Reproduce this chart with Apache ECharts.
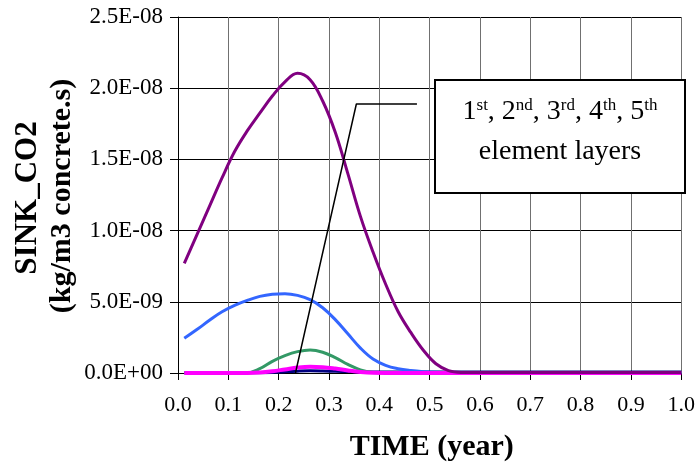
<!DOCTYPE html>
<html><head><meta charset="utf-8">
<script src="https://cdn.jsdelivr.net/npm/echarts@6/dist/echarts.min.js"></script>
<style>html,body{margin:0;padding:0;background:#fff}#c{width:698px;height:467px}</style>
</head><body><div id="c"></div>
<script>
// TIME (year)
const time = [0.0125, 0.0375, 0.0625, 0.0875, 0.1125, 0.1375, 0.1625, 0.1875, 0.2125, 0.2375, 0.2625, 0.2875, 0.3125, 0.3375, 0.3625, 0.3875, 0.4125, 0.4375, 0.4625, 0.4875, 0.5125, 0.5375, 0.5625, 0.5875, 0.7, 0.8, 0.9, 1.0];
// SINK_CO2 (kg/m3 concrete.s) per element layer
const layer1 = [0.77e-8, 0.97e-8, 1.17e-8, 1.37e-8, 1.555e-8, 1.70e-8, 1.825e-8, 1.945e-8, 2.045e-8, 2.105e-8, 2.06e-8, 1.91e-8, 1.69e-8, 1.40e-8, 1.10e-8, 0.85e-8, 0.625e-8, 0.43e-8, 0.285e-8, 0.16e-8, 0.065e-8, 0.017e-8, 0.004e-8, 0.003e-8, 0.003e-8, 0.003e-8, 0.003e-8, 0.003e-8];
const layer2 = [0.244e-8, 0.305e-8, 0.37e-8, 0.43e-8, 0.475e-8, 0.51e-8, 0.538e-8, 0.553e-8, 0.557e-8, 0.545e-8, 0.515e-8, 0.458e-8, 0.375e-8, 0.275e-8, 0.175e-8, 0.098e-8, 0.054e-8, 0.030e-8, 0.017e-8, 0.009e-8, 0.005e-8, 0.004e-8, 0.003e-8, 0.003e-8, 0.003e-8, 0.003e-8, 0.003e-8, 0.003e-8];
const layer3 = [0, 0, 0, 0, 0, 0.001e-8, 0.03e-8, 0.082e-8, 0.122e-8, 0.150e-8, 0.1615e-8, 0.146e-8, 0.108e-8, 0.060e-8, 0.022e-8, 0.004e-8, 0, 0, 0, 0, 0, 0, 0, 0, 0, 0, 0, 0];
const layer4 = [0, 0, 0, 0, 0, 0, 0.003e-8, 0.012e-8, 0.025e-8, 0.038e-8, 0.044e-8, 0.041e-8, 0.031e-8, 0.018e-8, 0.007e-8, 0.001e-8, 0, 0, 0, 0, 0, 0, 0, 0, 0, 0, 0, 0];
const layer5 = [0, 0, 0, 0, 0, 0, 0.001e-8, 0.004e-8, 0.009e-8, 0.013e-8, 0.015e-8, 0.014e-8, 0.012e-8, 0.010e-8, 0.008e-8, 0.007e-8, 0.007e-8, 0.007e-8, 0.007e-8, 0.007e-8, 0.007e-8, 0.007e-8, 0.007e-8, 0.007e-8, 0.007e-8, 0.007e-8, 0.007e-8, 0.007e-8];
// annotation leader line (data coordinates)
const leaderX = [0.2334, 0.3544, 0.4748];
const leaderY = [0, 1.889e-8, 1.889e-8];
// tick labels
const xTickLabels = ['0.0','0.1','0.2','0.3','0.4','0.5','0.6','0.7','0.8','0.9','1.0'];
const yTickLabels = ['0.0E+00','5.0E-09','1.0E-08','1.5E-08','2.0E-08','2.5E-08'];

const FONT = '"Liberation Serif", "Times New Roman", Times, serif';
function pairs(xs, ys) { return xs.map((x, i) => [x, ys[i]]); }
function lineSeries(name, ys, color, width) {
  return { name, type: 'line', data: pairs(time, ys), smooth: 0.4, showSymbol: false, symbol: 'none',
    lineStyle: { color, width }, itemStyle: { color }, z: 3 };
}
const chart = echarts.init(document.getElementById('c'), null, { renderer: 'canvas' });
chart.setOption({
  animation: false,
  backgroundColor: '#fff',
  grid: { left: 178, top: 17, right: 13, bottom: 94, containLabel: false },
  xAxis: {
    type: 'value', min: 0, max: 1, interval: 0.1,
    axisLine: { show: true, onZero: false, lineStyle: { color: '#000', width: 1 } },
    axisTick: { show: true, inside: false, length: 7, lineStyle: { color: '#000' } },
    axisLabel: { formatter: v => xTickLabels[Math.round(v / 0.1)], fontFamily: FONT, fontSize: 22, color: '#000', margin: 21 },
    splitLine: { show: true, lineStyle: { color: '#707070', width: 1 } }
  },
  yAxis: {
    type: 'value', min: 0, max: 2.5e-8, interval: 5e-9,
    axisLine: { show: true, onZero: false, lineStyle: { color: '#000', width: 1 } },
    axisTick: { show: true, inside: false, length: 8, lineStyle: { color: '#000' } },
    axisLabel: { formatter: v => yTickLabels[Math.round(v / 5e-9)], fontFamily: FONT, fontSize: 23, color: '#000', margin: 15 },
    splitLine: { show: true, lineStyle: { color: '#000', width: 1 } }
  },
  series: [
    lineSeries('5th', layer5, '#000080', 3),
    lineSeries('3rd', layer3, '#339966', 3),
    lineSeries('2nd', layer2, '#3366FF', 3),
    lineSeries('4th', layer4, '#FF00FF', 4),
    lineSeries('1st', layer1, '#800080', 3),
    { name: 'leader', type: 'line', data: pairs(leaderX, leaderY), smooth: false, symbol: 'none',
      lineStyle: { color: '#000', width: 1.5 }, z: 4 }
  ],
  graphic: [
    { type: 'rect', z: 100, shape: { x: 435, y: 80, width: 250, height: 113 },
      style: { fill: '#fff', stroke: '#000', lineWidth: 2 } },
    { type: 'text', z: 101, x: 560, y: 112,
      style: { text: '{n|1}{s|st}{n|, 2}{s|nd}{n|, 3}{s|rd}{n|, 4}{s|th}{n|, 5}{s|th}',
        align: 'center', verticalAlign: 'middle', fill: '#000',
        rich: { n: { fontFamily: FONT, fontSize: 28, lineHeight: 30, fill: '#000' },
                s: { fontFamily: FONT, fontSize: 17, lineHeight: 12, verticalAlign: 'top', fill: '#000' } } } },
    { type: 'text', z: 101, x: 560, y: 152,
      style: { text: 'element layers', font: '28px ' + FONT, align: 'center', verticalAlign: 'middle', fill: '#000' } },
    { type: 'text', x: 431.75, y: 447,
      style: { text: 'TIME (year)', font: 'bold 30px ' + FONT, align: 'center', verticalAlign: 'middle', fill: '#000' } },
    { type: 'text', x: 28, y: 198, rotation: Math.PI / 2,
      style: { text: 'SINK_CO2', font: 'bold 31px ' + FONT, align: 'center', verticalAlign: 'middle', fill: '#000' } },
    { type: 'text', x: 62, y: 196, rotation: Math.PI / 2,
      style: { text: '(kg/m3 concrete.s)', font: 'bold 30px ' + FONT, align: 'center', verticalAlign: 'middle', fill: '#000' } }
  ]
});
</script></body></html>
